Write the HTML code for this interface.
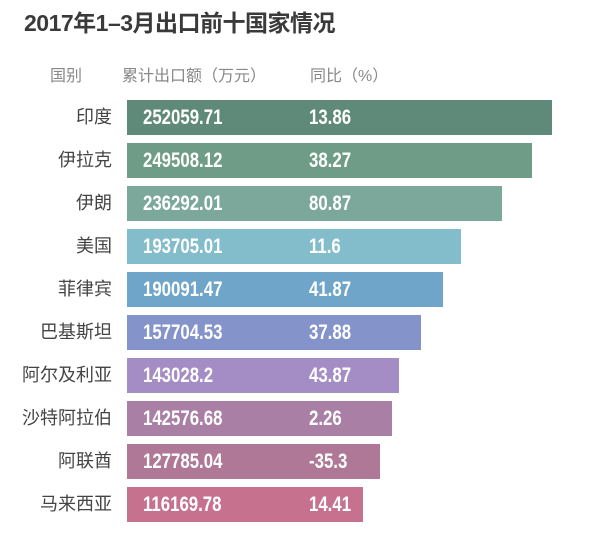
<!DOCTYPE html>
<html><head><meta charset="utf-8"><style>
body{margin:0;width:600px;height:536px;background:#fff;position:relative;overflow:hidden;font-family:"Liberation Sans","Noto Sans CJK SC",sans-serif}
.t{position:absolute;left:24px;top:4px;font-size:23px;font-weight:bold;color:#3a3a3a;letter-spacing:-0.5px}
.h{position:absolute;top:62px;font-size:16px;color:#888}
.l{position:absolute;right:488px;font-size:18px;color:#444;white-space:nowrap;line-height:35px}
.b{position:absolute;left:127px;height:35px}
.v{position:absolute;font-family:"Liberation Sans Narrow","Liberation Sans",sans-serif;font-weight:bold;font-size:21px;color:#fff;line-height:35px;transform:scaleX(0.8);transform-origin:left}
</style></head><body>
<div class="t">2017年1–3月出口前十国家情况</div>
<div class="h" style="left:50px">国别</div>
<div class="h" style="left:122px">累计出口额（万元）</div>
<div class="h" style="left:310px">同比（%）</div>
<div class="b" style="top:100px;width:425px;background:#5f8a79"></div>
<div class="b" style="top:143px;width:405px;background:#6e9c86"></div>
<div class="b" style="top:186px;width:375px;background:#7ba89b"></div>
<div class="b" style="top:229px;width:334px;background:#83bccb"></div>
<div class="b" style="top:272px;width:316px;background:#6fa5c8"></div>
<div class="b" style="top:315px;width:294px;background:#8494cb"></div>
<div class="b" style="top:358px;width:272px;background:#a48cc4"></div>
<div class="b" style="top:401px;width:265px;background:#a97fa6"></div>
<div class="b" style="top:444px;width:253px;background:#ae7896"></div>
<div class="b" style="top:487px;width:236px;background:#c6728f"></div>
<div class="l" style="top:100px">印度</div>
<div class="l" style="top:143px">伊拉克</div>
<div class="l" style="top:186px">伊朗</div>
<div class="l" style="top:229px">美国</div>
<div class="l" style="top:272px">菲律宾</div>
<div class="l" style="top:315px">巴基斯坦</div>
<div class="l" style="top:358px">阿尔及利亚</div>
<div class="l" style="top:401px">沙特阿拉伯</div>
<div class="l" style="top:444px">阿联酋</div>
<div class="l" style="top:487px">马来西亚</div>
<div class="v" style="left:143px;top:100px">252059.71</div><div class="v" style="left:309px;top:100px">13.86</div>
<div class="v" style="left:143px;top:143px">249508.12</div><div class="v" style="left:309px;top:143px">38.27</div>
<div class="v" style="left:143px;top:186px">236292.01</div><div class="v" style="left:309px;top:186px">80.87</div>
<div class="v" style="left:143px;top:229px">193705.01</div><div class="v" style="left:309px;top:229px">11.6</div>
<div class="v" style="left:143px;top:272px">190091.47</div><div class="v" style="left:309px;top:272px">41.87</div>
<div class="v" style="left:143px;top:315px">157704.53</div><div class="v" style="left:309px;top:315px">37.88</div>
<div class="v" style="left:143px;top:358px">143028.2</div><div class="v" style="left:309px;top:358px">43.87</div>
<div class="v" style="left:143px;top:401px">142576.68</div><div class="v" style="left:309px;top:401px">2.26</div>
<div class="v" style="left:143px;top:444px">127785.04</div><div class="v" style="left:309px;top:444px">-35.3</div>
<div class="v" style="left:143px;top:487px">116169.78</div><div class="v" style="left:309px;top:487px">14.41</div>
</body></html>
